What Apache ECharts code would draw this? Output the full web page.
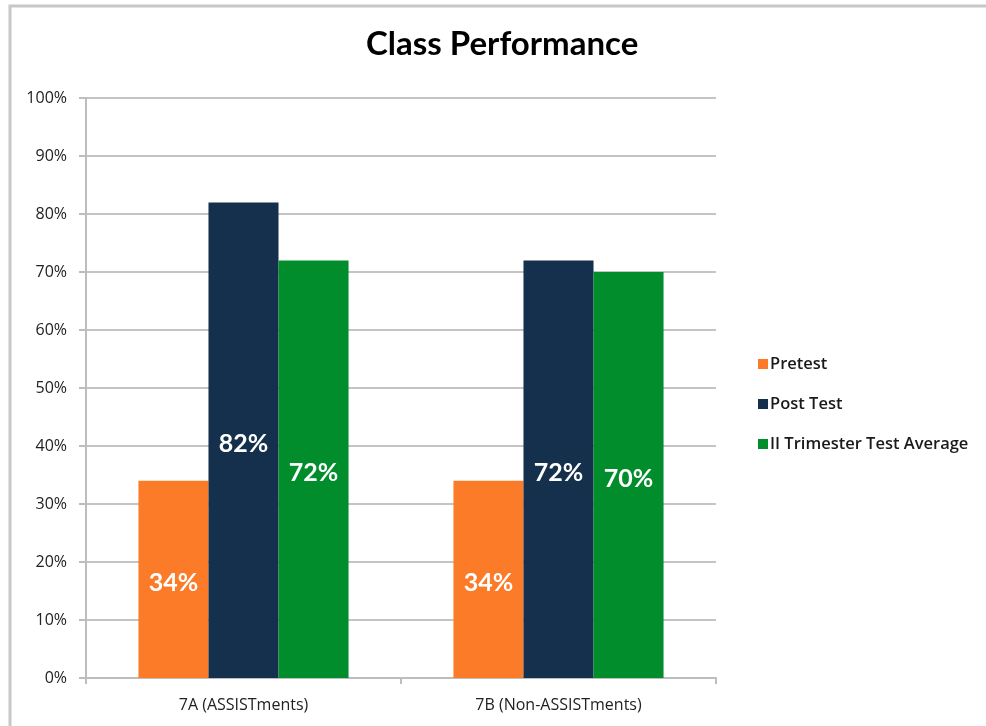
<!DOCTYPE html>
<html><head><meta charset="utf-8">
<script src="https://cdn.jsdelivr.net/npm/echarts@6/dist/echarts.min.js"></script>
<style>html,body{margin:0;padding:0;background:#fff}#c{width:986px;height:726px}</style>
</head><body><div id="c"></div>
<script>
const categories = ['7A (ASSISTments)', '7B (Non-ASSISTments)'];
const seriesNames = ['Pretest', 'Post Test', 'II Trimester Test Average'];
const pretest = [34, 34];
const postTest = [82, 72];
const trimesterAvg = [72, 70];
const colors = ['#FB7B28', '#14304C', '#028D2D'];
const FONT = 'Lato';
const FONT2 = 'Open Sans';

const chart = echarts.init(document.getElementById('c'), null, {renderer: 'canvas'});
const labelStyle = {show: true, position: 'inside', offset: [0, 4], color: '#fff', fontFamily: FONT, fontWeight: 'bold', fontSize: 25, formatter: p => p.value + '%'};
const mk = (name, data, i) => ({
  name, type: 'bar', data, barCategoryGap: '33.3%', barGap: '0%',
  itemStyle: {color: colors[i]}, label: labelStyle
});
chart.setOption({
  animation: false,
  title: {text: 'Class Performance', left: 361, top: 23, textStyle: {fontFamily: FONT, fontWeight: 'bold', fontSize: 33, color: '#000'}},
  legend: {
    orient: 'vertical', left: 753, top: 350, itemWidth: 10, itemHeight: 10, itemGap: 22,
    icon: 'rect', data: seriesNames,
    textStyle: {fontFamily: FONT2, fontWeight: 600, fontSize: 16.5, color: '#1a1a1a', lineHeight: 18, padding: [0,0,0,-3]}
  },
  grid: {left: 86, right: 270, top: 98, bottom: 48},
  xAxis: {
    type: 'category', data: categories,
    axisLine: {lineStyle: {color: '#bdbdbd', width: 2}},
    axisTick: {show: true, length: 6, lineStyle: {color: '#bdbdbd', width: 2}},
    axisLabel: {margin: 19, fontFamily: FONT2, fontSize: 16, color: '#222'}
  },
  yAxis: {
    type: 'value', min: 0, max: 100, interval: 10,
    axisLine: {show: true, lineStyle: {color: '#bdbdbd', width: 2}},
    axisTick: {show: true, length: 7, lineStyle: {color: '#bdbdbd', width: 2}},
    splitLine: {lineStyle: {color: '#c4c4c4', width: 2}},
    axisLabel: {formatter: '{value}%', margin: 19, fontFamily: FONT2, fontSize: 16, color: '#222'}
  },
  graphic: [{type: 'rect', shape: {x: 10, y: 6, width: 1200, height: 1000}, style: {fill: 'none', stroke: '#c8c8c8', lineWidth: 3}, silent: true}],
  series: [mk(seriesNames[0], pretest, 0), mk(seriesNames[1], postTest, 1), mk(seriesNames[2], trimesterAvg, 2)]
});
</script></body></html>
